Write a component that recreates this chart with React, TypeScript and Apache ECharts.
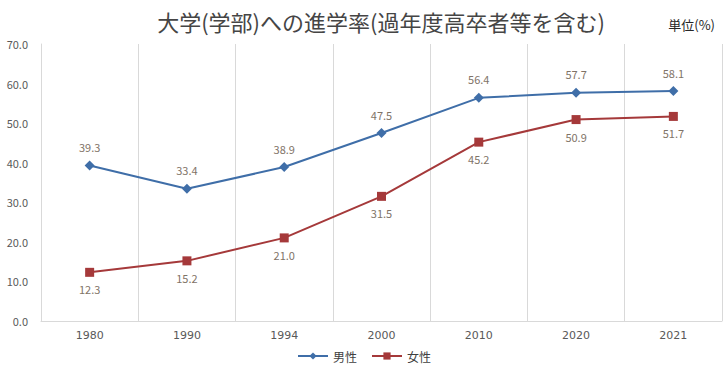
import React, { useEffect, useRef } from "react";
import * as echarts from "echarts";

const years = ["1980", "1990", "1994", "2000", "2010", "2020", "2021"];
const male = [39.3, 33.4, 38.9, 47.5, 56.4, 57.7, 58.1];
const female = [12.3, 15.2, 21.0, 31.5, 45.2, 50.9, 51.7];
const titleText = "大学(学部)への進学率(過年度高卒者等を含む)";
const unitText = "単位(%)";

const FONT = "'Noto Sans CJK JP', 'Noto Sans', sans-serif";

export default function App() {
  const ref = useRef<HTMLDivElement>(null);
  useEffect(() => {
    if (!ref.current) return;
    const chart = echarts.init(ref.current, null, { renderer: "svg" });
    const labelStyle = {
      show: true,
      color: "#7f7367",
      fontSize: 11,
      fontFamily: FONT,
      formatter: (p: any) => Number(p.value).toFixed(1),
    };
    chart.setOption({
      animation: false,
      textStyle: { fontFamily: FONT },
      title: [
        {
          text: titleText,
          left: 376,
          top: 5,
          textAlign: "center",
          textStyle: { fontSize: 22, fontWeight: "normal", color: "#454545", fontFamily: FONT },
        },
        {
          text: unitText,
          right: 8,
          top: 13,
          textStyle: { fontSize: 13, fontWeight: "normal", color: "#262626", fontFamily: FONT },
        },
      ],
      grid: { left: 41, right: 6, top: 44, bottom: 54, containLabel: false },
      legend: {
        bottom: 8,
        left: "center",
        itemWidth: 30,
        itemHeight: 9,
        itemGap: 14,
        textStyle: { fontSize: 12, color: "#404040", fontFamily: FONT },
        data: ["男性", "女性"],
      },
      xAxis: {
        type: "category",
        data: years,
        boundaryGap: true,
        axisLine: { lineStyle: { color: "#d9d9d9" } },
        axisTick: { show: false },
        splitLine: { show: true, lineStyle: { color: "#d9d9d9" } },
        axisLabel: { color: "#595959", fontSize: 11, margin: 9, fontFamily: "'DejaVu Sans', sans-serif" },
      },
      yAxis: {
        type: "value",
        min: 0,
        max: 70,
        interval: 10,
        axisLine: { show: true, lineStyle: { color: "#d9d9d9" } },
        axisTick: { show: false },
        splitLine: { show: false },
        axisLabel: {
          color: "#595959",
          fontSize: 11,
          margin: 13,
          formatter: (v: number) => v.toFixed(1),
        },
      },
      series: [
        {
          name: "男性",
          type: "line",
          data: male,
          symbol: "diamond",
          symbolSize: 10,
          itemStyle: { color: "#3f6ea8" },
          lineStyle: { color: "#3f6ea8", width: 2 },
          label: { ...labelStyle, position: "top", distance: 8 },
        },
        {
          name: "女性",
          type: "line",
          data: female,
          symbol: "rect",
          symbolSize: 9,
          itemStyle: { color: "#a5393a" },
          lineStyle: { color: "#a5393a", width: 2 },
          label: { ...labelStyle, position: "bottom", distance: 7 },
        },
      ],
    });
    return () => chart.dispose();
  }, []);
  return <div ref={ref} style={{ width: 728, height: 375, position: "absolute", left: 0, top: 0 }} />;
}
